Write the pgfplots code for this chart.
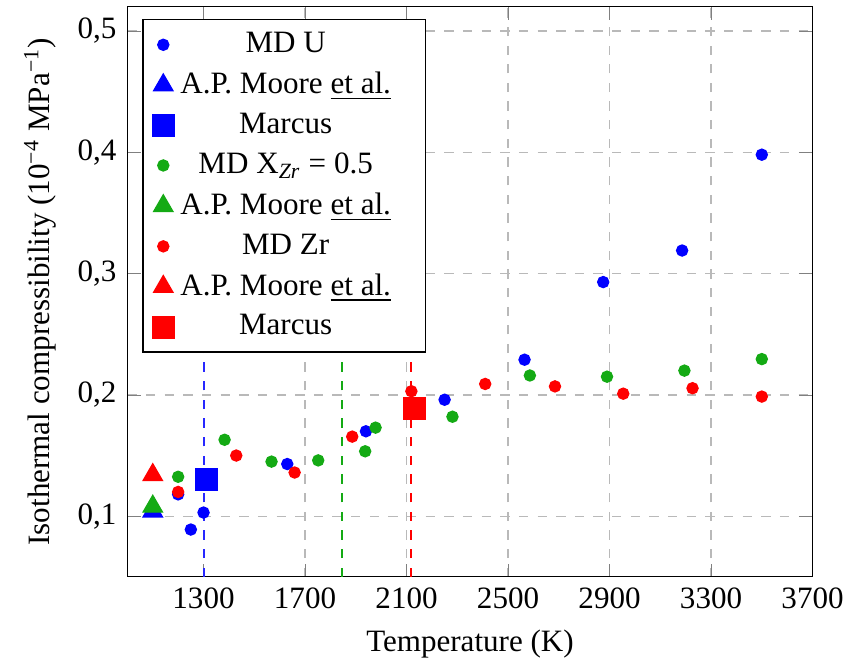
\documentclass[border=0pt]{standalone}
\usepackage{fontspec}
\setmainfont{Liberation Serif}
\usepackage{pgfplots}
\pgfplotsset{compat=1.18}

\definecolor{mdgreen}{RGB}{20,170,20}
\definecolor{lineblue}{RGB}{40,40,255}

\newcommand{\pad}{\hspace*{6pt}}

\begin{document}
\begin{tikzpicture}
\begin{axis}[
  name=ax,
  scale only axis,
  width=220.5pt, height=183.5pt,
  xmin=1000, xmax=3700,
  ymin=0.05, ymax=0.52,
  xtick={1300,1700,2100,2500,2900,3300,3700},
  ytick={0.1,0.2,0.3,0.4,0.5},
  /pgf/number format/assume math mode=true,
  x tick label style={/pgf/number format/1000 sep={}},
  y tick label style={/pgf/number format/.cd, fixed, precision=1, use comma},
  grid=major,
  grid style={dashed, gray!55},
  xlabel={Temperature (K)},
  ylabel={Isothermal compressibility (10\textsuperscript{−4} MPa\textsuperscript{−1})},
  legend cell align=center,
  legend style={at={(0.022,0.978)}, anchor=north west, font=\normalsize, row sep=0.75pt},
]
% melting temperatures
\addplot[draw=lineblue, dashed, line width=0.65pt, mark=none, forget plot] coordinates {(1300,0.05) (1300,0.26)};
\addplot[draw=mdgreen, dashed, line width=0.5pt, mark=none, forget plot] coordinates {(1845,0.05) (1845,0.26)};
\addplot[draw=red, dashed, line width=0.5pt, mark=none, forget plot] coordinates {(2118,0.05) (2118,0.26)};

% U
\addplot[only marks, mark=*, blue, mark size=1.8pt] coordinates {
  (1200,0.118) (1250,0.089) (1300,0.103) (1630,0.143) (1940,0.170)
  (2250,0.196) (2565,0.229) (2875,0.293) (3186,0.319) (3500,0.398)
};
\addplot[only marks, mark=triangle*, blue, mark size=3.6pt] coordinates {(1100,0.104)};
\addplot[only marks, mark=square*, blue, mark size=3.5pt] coordinates {(1310,0.130)};

% X_Zr = 0.5
\addplot[only marks, mark=*, mdgreen, mark size=1.8pt] coordinates {
  (1200,0.1325) (1383,0.163) (1568,0.145) (1752,0.146) (1937,0.1535)
  (1978,0.173) (2281,0.182) (2586,0.216) (2890,0.215) (3195,0.220) (3500,0.2295)
};
\addplot[only marks, mark=triangle*, mdgreen, mark size=3.6pt] coordinates {(1100,0.108)};

% Zr
\addplot[only marks, mark=*, red, mark size=1.8pt] coordinates {
  (1200,0.120) (1429,0.150) (1659,0.136) (1886,0.1656) (2119,0.203)
  (2410,0.209) (2685,0.207) (2954,0.201) (3227,0.2055) (3500,0.1986)
};
\addplot[only marks, mark=triangle*, red, mark size=3.6pt] coordinates {(1100,0.134)};
\addplot[only marks, mark=square*, red, mark size=3.5pt] coordinates {(2132,0.189)};

\legend{MD U\pad, A.P. Moore \underline{et al.}\pad, Marcus\pad,
  MD X\textsubscript{\textit{Zr}} = 0.5\pad, A.P. Moore \underline{et al.}\pad,
  MD Zr\pad, A.P. Moore \underline{et al.}\pad, Marcus\pad}
\end{axis}
\path ([shift={(-41pt,-26.6pt)}]ax.south west) rectangle ([shift={(13.2pt,2.15pt)}]ax.north east);
\end{tikzpicture}
\end{document}
